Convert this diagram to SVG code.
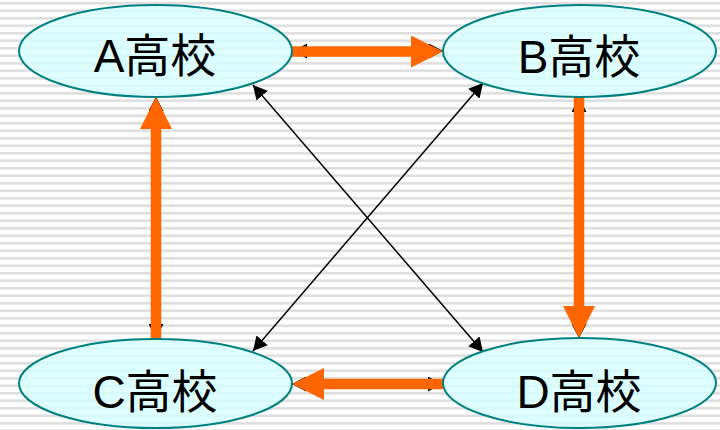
<svg xmlns="http://www.w3.org/2000/svg" width="720" height="430" viewBox="0 0 720 430">
  <defs>
    <pattern id="stripes" patternUnits="userSpaceOnUse" x="0" y="0" width="720" height="7.5">
      <rect x="0" y="0" width="720" height="7.5" fill="#ffffff"/>
      <rect x="0" y="2" width="720" height="2.5" fill="#dddddd"/>
    </pattern>
    <marker id="blackHead" markerUnits="userSpaceOnUse" viewBox="0 0 14 15" refX="14" refY="7.5" markerWidth="14" markerHeight="15" orient="auto-start-reverse">
      <path d="M0,0 L14,7.5 L0,15 z" fill="#000000"/>
    </marker>
    <marker id="orangeHead" markerUnits="userSpaceOnUse" viewBox="0 0 32 32" refX="0" refY="16" markerWidth="32" markerHeight="32" orient="auto">
      <path d="M0,0 L32,16 L0,32 z" fill="#ff6600"/>
    </marker>
  </defs>
  <style>
    .node ellipse { fill: #d4ffff; fill-opacity: 0.8; stroke: #008080; stroke-width: 2; }
    .node text { font-family: "Liberation Sans", "Noto Sans CJK JP", sans-serif; font-size: 46px; fill: #000000; text-anchor: middle; }
    .thin { stroke: #000000; stroke-width: 1.5; fill: none; marker-start: url(#blackHead); marker-end: url(#blackHead); }
    .thick { stroke: #ff6600; stroke-width: 10.5; fill: none; marker-end: url(#orangeHead); }
  </style>
  <rect x="0" y="0" width="720" height="430" fill="url(#stripes)"/>

  <g id="connectors">
    <line class="thin" x1="293" y1="51" x2="443" y2="51"/>
    <line class="thin" x1="156" y1="97" x2="156" y2="338"/>
    <line class="thin" x1="579" y1="98" x2="579" y2="338"/>
    <line class="thin" x1="292" y1="384" x2="442" y2="384"/>
    <line class="thin" x1="253" y1="85" x2="483" y2="352"/>
    <line class="thin" x1="483" y1="83" x2="253" y2="351"/>
    <line class="thick" x1="292" y1="51.5" x2="411" y2="51.5"/>
    <line class="thick" x1="156" y1="339" x2="156" y2="129"/>
    <line class="thick" x1="579" y1="97" x2="579" y2="306"/>
    <line class="thick" x1="443" y1="384" x2="324" y2="384"/>
  </g>

  <g id="nodeA" class="node">
    <ellipse cx="155.5" cy="51" rx="136.5" ry="46"/>
    <text x="155" y="72">A高校</text>
  </g>
  <g id="nodeB" class="node">
    <ellipse cx="579.5" cy="51" rx="136.5" ry="46"/>
    <text x="579" y="73">B高校</text>
  </g>
  <g id="nodeC" class="node">
    <ellipse cx="155.5" cy="383.5" rx="136.5" ry="44.5"/>
    <text x="155" y="408">C高校</text>
  </g>
  <g id="nodeD" class="node">
    <ellipse cx="579.5" cy="383" rx="136.5" ry="45"/>
    <text x="579" y="408">D高校</text>
  </g>
</svg>
